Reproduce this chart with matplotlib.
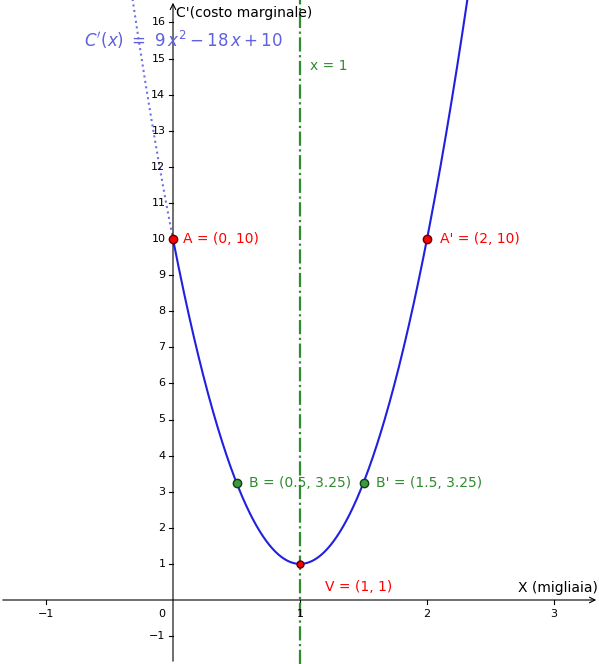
import numpy as np
import matplotlib
matplotlib.use("Agg")
import matplotlib.pyplot as plt

a, b, c = 9, -18, 10
pts_red = [(0, 10, "A = (0, 10)"), (2, 10, "A' = (2, 10)"), (1, 1, "V = (1, 1)")]
pts_green = [(0.5, 3.25, "B = (0.5, 3.25)"), (1.5, 3.25, "B' = (1.5, 3.25)")]
xticks = [-1, 1, 2, 3]
yticks = [-1] + list(range(1, 17))

fig = plt.figure(figsize=(5.99, 6.64), dpi=100)
ax = fig.add_axes([0, 0, 1, 1])
x0, x1 = -173/127, (599-173)/127
y1, y0 = 600/36.1, -64/36.1
ax.set_xlim(x0, x1); ax.set_ylim(y0, y1)
ax.axis("off")

ax.annotate("", xy=(x1, 0), xytext=(x0, 0), arrowprops=dict(arrowstyle="->", color="black", lw=0.8))
ax.annotate("", xy=(0, y1), xytext=(0, y0), arrowprops=dict(arrowstyle="->", color="black", lw=0.8))
for t in xticks:
    ax.plot([t, t], [0, -0.1], color="black", lw=0.8)
    ax.text(t, -0.25, str(t).replace("-", "−"), ha="center", va="top", fontsize=8)
ax.text(-0.06, -0.25, "0", ha="right", va="top", fontsize=8)
for t in yticks:
    ax.plot([0, -0.03], [t, t], color="black", lw=0.8)
    ax.text(-0.06, t, str(t).replace("-", "−"), ha="right", va="center", fontsize=8)
ax.text(2.72, 0.15, "X (migliaia)", fontsize=10, va="bottom")
ax.text(0.02, 16.25, "C'(costo marginale)", fontsize=10, va="center")

ax.axvline(1, color="#2e8b2e", lw=1.6, ls="-.")
ax.text(1.08, 14.8, "x = 1", color="#2e8b2e", fontsize=10, va="center")

xs = np.linspace(0, 2.5, 400)
ax.plot(xs, a*xs**2 + b*xs + c, color="#2020e0", lw=1.5)
xd = np.linspace(-0.35, 0, 60)
ax.plot(xd, a*xd**2 + b*xd + c, color="#7070e8", lw=1.5, ls=":")
ax.text(-0.7, 15.5, r"$C'(x)\ =\ 9\,x^2-18\,x+10$", color="#6060e0", fontsize=12, va="center")

for px, py, lab in pts_red:
    ax.plot(px, py, "o", ms=6 if py > 1 else 5, mfc="red", mec="#600000", zorder=5)
offs = {"A = (0, 10)": (0.08, 0), "A' = (2, 10)": (0.1, 0), "V = (1, 1)": (0.2, -0.65)}
for px, py, lab in pts_red:
    dx, dy = offs[lab]
    ax.text(px+dx, py+dy, lab, color="red", fontsize=10, va="center")
for px, py, lab in pts_green:
    ax.plot(px, py, "o", ms=6, mfc="#3c9a3c", mec="#104010", zorder=5)
    ax.text(px+0.1, py, lab, color="#2e8b2e", fontsize=10, va="center")

fig.savefig("out.png", dpi=100)
